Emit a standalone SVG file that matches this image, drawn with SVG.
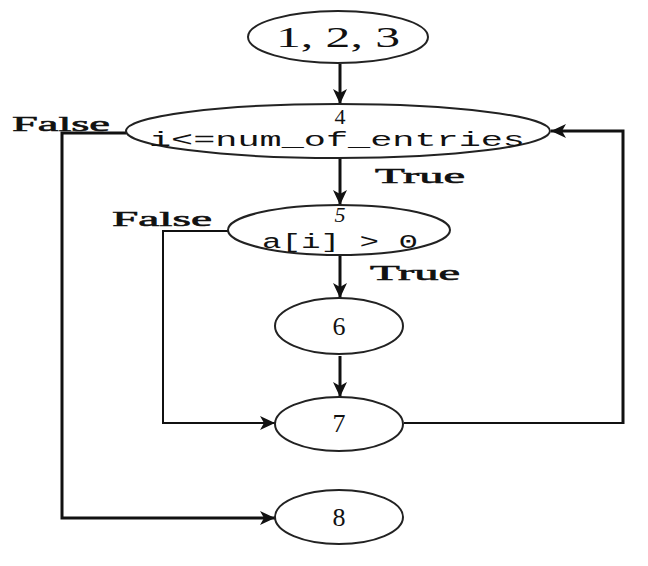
<svg xmlns="http://www.w3.org/2000/svg" width="648" height="566" viewBox="0 0 648 566">
  <style>
    .node ellipse { fill: #ffffff; stroke: #222; stroke-width: 2; }
    .serif { font-family: "Liberation Serif", "Times New Roman", serif; fill: #111; }
    .mono { font-family: "Liberation Mono", "Courier New", monospace; fill: #111; }
    .label { stroke: #111; stroke-width: 0.6; }
    .edge { fill: none; stroke: #111; stroke-width: 3; }
    .thin { stroke-width: 2; }
  </style>
  <defs>
    <marker id="arrow" markerUnits="userSpaceOnUse" markerWidth="16" markerHeight="14" refX="15" refY="7" orient="auto">
      <path d="M0,0 L15,7 L0,14 L4,7 Z" fill="#111"/>
    </marker>
  </defs>
  <rect width="648" height="566" fill="#ffffff"/>

  <g id="connectors">
    <path class="edge" d="M340,64 V104" marker-end="url(#arrow)"/>
    <path class="edge" d="M340,158 V205" marker-end="url(#arrow)"/>
    <path class="edge" d="M340,256 V298" marker-end="url(#arrow)"/>
    <path class="edge" d="M340,356 V397" marker-end="url(#arrow)"/>
    <!-- 4 false: to exit node 8 -->
    <path class="edge" d="M126,133 H62 V518 H275" marker-end="url(#arrow)"/>
    <!-- 5 false: skip to 7 -->
    <path class="edge thin" d="M229,231 H163 V423 H275" marker-end="url(#arrow)"/>
    <!-- loop back from 7 to 4 -->
    <path class="edge thin" d="M404,423 H623"/>
    <path class="edge" d="M623,424 V131 H551" marker-end="url(#arrow)"/>
    <text class="serif label" x="12" y="131" font-size="22" textLength="98" lengthAdjust="spacingAndGlyphs">False</text>
    <text class="serif label" x="375" y="183" font-size="22" textLength="90" lengthAdjust="spacingAndGlyphs">True</text>
    <text class="serif label" x="112" y="226" font-size="22" textLength="100" lengthAdjust="spacingAndGlyphs">False</text>
    <text class="serif label" x="370" y="280" font-size="22" textLength="90" lengthAdjust="spacingAndGlyphs">True</text>
  </g>

  <g id="n123" class="node">
    <ellipse cx="338" cy="37" rx="90" ry="26"/>
    <text class="serif" x="338" y="47" font-size="30" text-anchor="middle" textLength="124" lengthAdjust="spacingAndGlyphs">1, 2, 3</text>
  </g>
  <g id="n4" class="node">
    <ellipse cx="338" cy="131" rx="212" ry="27"/>
    <text class="serif" x="340" y="124" font-size="22" text-anchor="middle">4</text>
    <text class="mono" x="337" y="146" font-size="20" text-anchor="middle" textLength="376" lengthAdjust="spacingAndGlyphs">i&lt;=num_of_entries</text>
  </g>
  <g id="n5" class="node">
    <ellipse cx="339" cy="230" rx="111" ry="25"/>
    <text class="serif" x="340" y="222" font-size="22" font-style="italic" text-anchor="middle">5</text>
    <text class="mono" x="340" y="248" font-size="20" text-anchor="middle" textLength="156" lengthAdjust="spacingAndGlyphs">a[i] &gt; 0</text>
  </g>
  <g id="n6" class="node">
    <ellipse cx="339" cy="326" rx="64" ry="28"/>
    <text class="serif" x="339" y="335" font-size="26" text-anchor="middle">6</text>
  </g>
  <g id="n7" class="node">
    <ellipse cx="339" cy="424" rx="64" ry="27"/>
    <text class="serif" x="339" y="432" font-size="26" text-anchor="middle">7</text>
  </g>
  <g id="n8" class="node">
    <ellipse cx="339" cy="517" rx="64" ry="27"/>
    <text class="serif" x="339" y="526" font-size="26" text-anchor="middle">8</text>
  </g>
</svg>
